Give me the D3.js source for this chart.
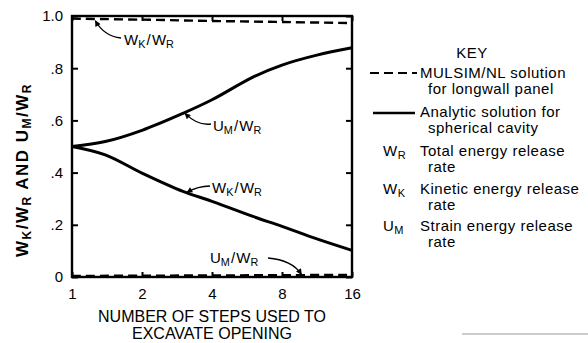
<!DOCTYPE html>
<html><head><meta charset="utf-8">
<script src="https://cdn.jsdelivr.net/npm/d3@7"></script>
<style>
body{margin:0;background:#fff;}
svg{display:block;font-family:"Liberation Sans",Arial,sans-serif;}
</style></head>
<body><svg id="c" width="588" height="343"></svg>
<script>
// ---- data ----
const xTicks = [1, 2, 4, 8, 16];
const yTicks = [0, 0.2, 0.4, 0.6, 0.8, 1.0];
const yTickLabels = ["0", ".2", ".4", ".6", ".8", "1.0"];
const analyticSteps = [1, 1.39, 2, 3, 4, 6, 8, 11.3, 16];
const analyticUM = [0.5, 0.519, 0.562, 0.627, 0.679, 0.766, 0.812, 0.850, 0.878];
const analyticWK = [0.5, 0.468, 0.398, 0.328, 0.290, 0.232, 0.194, 0.146, 0.102];
const mulsimSteps = [1, 2, 4, 8, 16];
const mulsimWK = [0.99, 0.986, 0.981, 0.977, 0.973];
const mulsimUM = [0.004, 0.005, 0.006, 0.007, 0.008];

const svg = d3.select("#c");
const x = d3.scaleLog().base(2).domain([1, 16]).range([72, 352]);
const y = d3.scaleLinear().domain([0, 1]).range([277, 16]);

// frame
svg.append("rect").attr("x", 72).attr("y", 16).attr("width", 280).attr("height", 261)
  .attr("fill", "none").attr("stroke", "#000").attr("stroke-width", 2.4);

function styleAxis(g){ g.select(".domain").remove(); g.selectAll("line").attr("stroke","#000").attr("stroke-width",2); }

svg.append("g").attr("transform","translate(72,0)")
  .call(d3.axisLeft(y).tickValues(yTicks).tickSize(-6).tickPadding(9)
    .tickFormat((d,i)=>yTickLabels[i]))
  .call(styleAxis)
  .selectAll("text").attr("font-size",15).attr("fill","#000").attr("font-family","Liberation Sans, Arial, sans-serif");
svg.append("g").attr("transform","translate(352,0)")
  .call(d3.axisRight(y).tickValues(yTicks).tickSize(-6).tickFormat(""))
  .call(styleAxis);
svg.append("g").attr("transform","translate(0,277)")
  .call(d3.axisBottom(x).tickValues(xTicks).tickSize(-5).tickPadding(11).tickFormat(d3.format("d")))
  .call(styleAxis)
  .selectAll("text").attr("font-size",15).attr("fill","#000").attr("font-family","Liberation Sans, Arial, sans-serif");
svg.append("g").attr("transform","translate(0,16)")
  .call(d3.axisTop(x).tickValues(xTicks).tickSize(-5).tickFormat(""))
  .call(styleAxis);

// lines
const line = d3.line().x(d=>x(d[0])).y(d=>y(d[1])).curve(d3.curveCatmullRom.alpha(0.5));
function draw(steps, vals, dashed){
  svg.append("path").datum(steps.map((s,i)=>[s, vals[i]]))
    .attr("d", line).attr("fill","none").attr("stroke","#000")
    .attr("stroke-width", dashed?2.4:3).attr("stroke-dasharray", dashed?"9,5":null);
}
draw(analyticSteps, analyticUM, false);
draw(analyticSteps, analyticWK, false);
draw(mulsimSteps, mulsimWK, true);
draw(mulsimSteps, mulsimUM, true);

// arrow marker
svg.append("defs").append("marker").attr("id","arr").attr("viewBox","0 0 10 10")
  .attr("refX",9).attr("refY",5).attr("markerWidth",7).attr("markerHeight",6)
  .attr("orient","auto").attr("markerUnits","userSpaceOnUse")
  .append("path").attr("d","M0,0 L10,5 L0,10 Z").attr("fill","#000");

function ratio(g, a, as, b, bs, fs){
  const t = g.append("text").attr("font-size", fs).attr("fill","#000");
  t.append("tspan").text(a);
  t.append("tspan").attr("font-size", fs*0.72).attr("dy", 3).text(as);
  t.append("tspan").attr("dy", -3).text(" / ");
  t.append("tspan").text(b);
  t.append("tspan").attr("font-size", fs*0.72).attr("dy", 3).text(bs);
  return t;
}

// annotations
const ann = [
  {lab:["W","K","W","R"], lx:124, ly:45, sx:121, sy:38, cx:104, cy:36, n:1.26, v:0.982},
  {lab:["U","M","W","R"], lx:213, ly:131, sx:211, sy:124, cx:198, cy:126, n:3.06, v:0.627},
  {lab:["W","K","W","R"], lx:212, ly:193, sx:210, sy:186, cx:198, cy:186, n:3.12, v:0.324},
  {lab:["U","M","W","R"], lx:210, ly:263, sx:268, sy:258, cx:292, cy:260, n:9.7, v:0.01}
];
ann.forEach(a=>{
  const tx = x(a.n), ty = y(a.v);
  svg.append("path").attr("d", `M${a.sx},${a.sy} Q${a.cx},${a.cy} ${tx},${ty}`)
    .attr("fill","none").attr("stroke","#000").attr("stroke-width",1.3)
    .attr("marker-end","url(#arr)");
  ratio(svg, a.lab[0], a.lab[1], a.lab[2], a.lab[3], 15)
    .attr("x", a.lx).attr("y", a.ly).style("word-spacing","-3px");
});

// axis titles
const xt = svg.append("text").attr("text-anchor","middle").attr("font-size",16).attr("fill","#000");
xt.append("tspan").attr("x",212).attr("y",322).text("NUMBER OF STEPS USED TO");
xt.append("tspan").attr("x",212).attr("y",339).text("EXCAVATE OPENING");

const yt = svg.append("text").attr("transform","translate(28,170) rotate(-90)")
  .attr("text-anchor","middle").attr("font-size",17).attr("fill","#000").attr("font-weight","bold")
  .style("letter-spacing","1.5px");
yt.append("tspan").text("W");
yt.append("tspan").attr("font-size",12).attr("dy",3).text("K");
yt.append("tspan").attr("dy",-3).text("/W");
yt.append("tspan").attr("font-size",12).attr("dy",3).text("R");
yt.append("tspan").attr("dy",-3).text(" AND U");
yt.append("tspan").attr("font-size",12).attr("dy",3).text("M");
yt.append("tspan").attr("dy",-3).text("/W");
yt.append("tspan").attr("font-size",12).attr("dy",3).text("R");

// key
const key = svg.append("g").attr("font-size",15).attr("fill","#000").style("letter-spacing","0.5px");
key.append("text").attr("x",472).attr("y",58).attr("text-anchor","middle").text("KEY");
key.append("line").attr("x1",370).attr("x2",417).attr("y1",73).attr("y2",73)
  .attr("stroke","#000").attr("stroke-width",2.2).attr("stroke-dasharray","9,5");
key.append("text").attr("x",420).attr("y",78).text("MULSIM/NL solution");
key.append("text").attr("x",428).attr("y",94).text("for longwall panel");
key.append("line").attr("x1",373).attr("x2",415).attr("y1",113).attr("y2",113)
  .attr("stroke","#000").attr("stroke-width",2.4);
key.append("text").attr("x",420).attr("y",117).text("Analytic solution for");
key.append("text").attr("x",428).attr("y",133).text("spherical cavity");
const sym = [["W","R","Total energy release",156],["W","K","Kinetic energy release",194],["U","M","Strain energy release",231]];
sym.forEach(s=>{
  const t = key.append("text").attr("x",383).attr("y",s[3]);
  t.append("tspan").text(s[0]);
  t.append("tspan").attr("font-size",11).attr("dy",3).text(s[1]);
  key.append("text").attr("x",420).attr("y",s[3]).text(s[2]);
  key.append("text").attr("x",428).attr("y",s[3]+16).text("rate");
});

// page rule at bottom right
svg.append("line").attr("x1",462).attr("x2",588).attr("y1",334).attr("y2",334)
  .attr("stroke","#999").attr("stroke-width",1);
</script></body></html>
